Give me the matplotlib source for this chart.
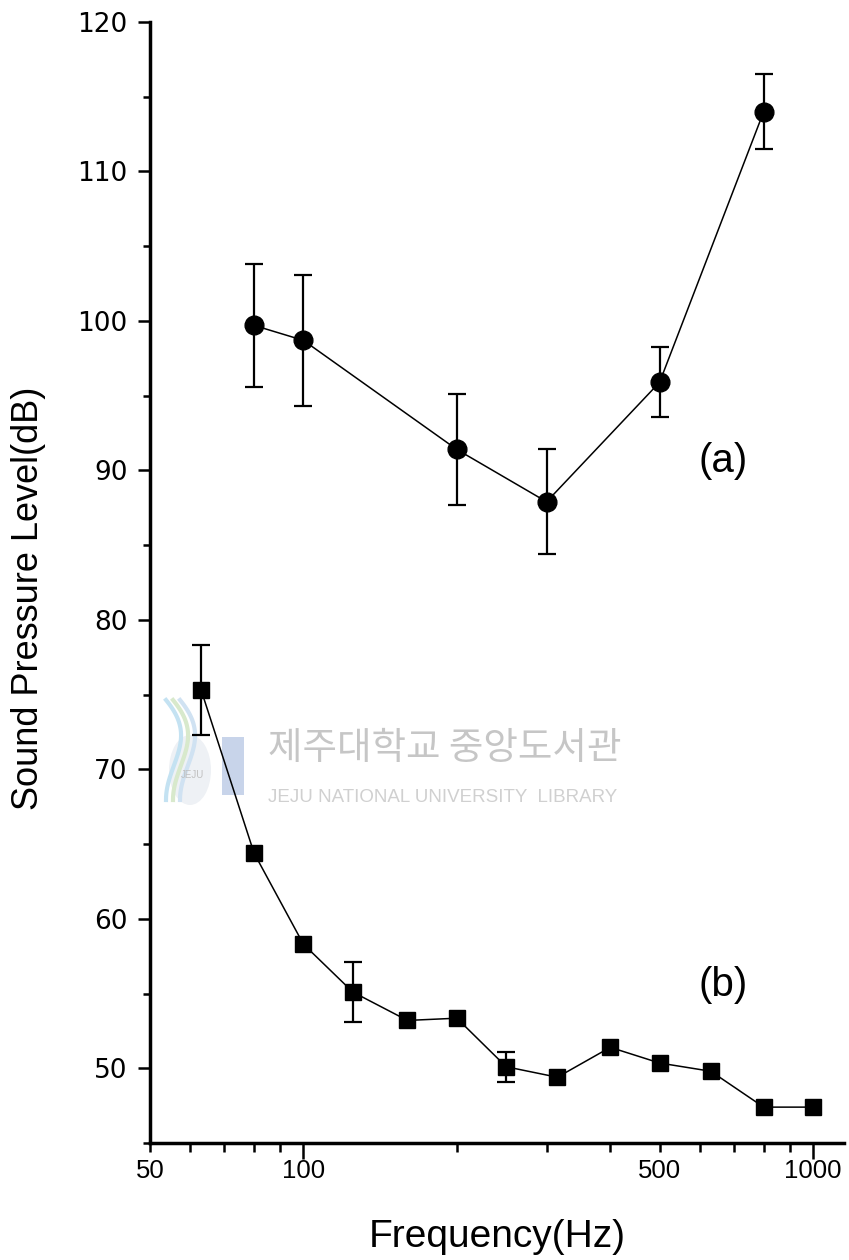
import numpy as np
import matplotlib.pyplot as plt
from matplotlib.ticker import MultipleLocator
from matplotlib.patches import Rectangle, Ellipse
from matplotlib.lines import Line2D

# curve (a): level measured at a few frequencies, with spread
freq_a = [80, 100, 200, 300, 500, 800]
spl_a = [99.7, 98.7, 91.4, 87.9, 95.9, 114.0]
err_a = [4.1, 4.4, 3.7, 3.5, 2.35, 2.5]

# curve (b): 1/3 octave bands, spread only where measured
freq_b = [63, 80, 100, 125, 160, 200, 250, 315, 400, 500, 630, 800, 1000]
spl_b = [75.3, 64.4, 58.3, 55.1, 53.2, 53.35, 50.1, 49.4, 51.4, 50.35, 49.8, 47.4, 47.4]
err_b = [3.0, 0, 0, 2.0, 0, 0, 1.0, 0, 0, 0, 0, 0, 0]

# axis ticks
x_major = [100, 1000]
x_major_labels = ['100', '1000']
x_minor = [50, 60, 70, 80, 90, 200, 300, 400, 500, 600, 700, 800, 900]
x_minor_labels = ['50', '', '', '', '', '', '', '', '500', '', '', '', '']
y_major = [50, 60, 70, 80, 90, 100, 110, 120]

plt.rcParams['font.family'] = ['Liberation Sans', 'DejaVu Sans']

W, H = 849, 1260
fig = plt.figure(figsize=(W / 100, H / 100), dpi=100)
ax = fig.add_axes([150 / W, 117 / H, 694 / W, 1121 / H])
ax.set_facecolor('none')

# library watermark behind the plot
fig.text(268 / W, 1 - 748 / H, '제주대학교 중앙도서관', fontsize=27, color='#c6c6c6',
         family=['Noto Sans CJK KR', 'DejaVu Sans'], ha='left', va='center', zorder=-2)
fig.text(268 / W, 1 - 797 / H, 'JEJU NATIONAL UNIVERSITY  LIBRARY', fontsize=13.5,
         color='#d0d0d0', ha='left', va='center', zorder=-2)
fig.patches.append(Rectangle((222 / W, 1 - 795 / H), 22 / W, 58 / H, transform=fig.transFigure,
                             facecolor='#c8d4ea', edgecolor='none', zorder=-2))
fig.patches.append(Ellipse((190 / W, 1 - 770 / H), 42 / W, 70 / H, transform=fig.transFigure,
                           facecolor='#eef1f5', edgecolor='none', zorder=-3))
t = np.linspace(0, 1, 60)
for dx, col in [(0, '#c4e2f2'), (7, '#d8e9cc'), (14, '#d0e2f2')]:
    xs = (166 + dx + 26 * np.sin(np.pi * t) * (1 - t)) / W
    ys = 1 - (700 + 100 * t) / H
    fig.lines.append(Line2D(xs, ys, transform=fig.transFigure, color=col, lw=3, zorder=-2))
fig.text(192 / W, 1 - 775 / H, 'JEJU', fontsize=7, color='#c0c0c0', ha='center',
         va='center', zorder=-2)

# curve (a): circles with error bars
ax.errorbar(freq_a, spl_a, yerr=err_a, fmt='none', ecolor='black',
            elinewidth=1.6, capsize=6.5, capthick=1.6, zorder=2)
ax.plot(freq_a, spl_a, color='black', lw=1.1, marker='o', markersize=13.5, zorder=3)

# curve (b): squares, error bars only where given
fb = np.array(freq_b)
sb = np.array(spl_b)
eb = np.array(err_b)
has_err = eb > 0
ax.errorbar(fb[has_err], sb[has_err], yerr=eb[has_err], fmt='none', ecolor='black',
            elinewidth=1.6, capsize=6.5, capthick=1.6, zorder=2)
ax.plot(freq_b, spl_b, color='black', lw=1.1, marker='s', markersize=11, zorder=3)

ax.text(665, 90.6, '(a)', fontsize=29, ha='center', va='center')
ax.text(665, 55.6, '(b)', fontsize=29, ha='center', va='center')

ax.set_xscale('log')
ax.set_xlim(50, 1150)
ax.set_ylim(45, 120)

ax.set_xticks(x_major, x_major_labels)
ax.set_xticks(x_minor, x_minor_labels, minor=True)
ax.set_yticks(y_major)
ax.yaxis.set_minor_locator(MultipleLocator(5))

ax.tick_params(axis='x', which='major', direction='out', length=11.5, width=1.8,
               pad=0, labelsize=18.5)
ax.tick_params(axis='x', which='minor', direction='out', length=6.5, width=1.8,
               pad=5, labelsize=18.5)
ax.tick_params(axis='y', which='major', direction='out', length=9, width=1.8,
               pad=7, labelsize=19)
ax.tick_params(axis='y', which='minor', direction='out', length=5, width=1.8)
for lbl in ax.get_yticklabels():
    lbl.set_fontfamily('DejaVu Sans')

for side in ['top', 'right']:
    ax.spines[side].set_visible(False)
for side in ['left', 'bottom']:
    ax.spines[side].set_linewidth(2.5)

ax.set_xlabel('Frequency(Hz)', fontsize=28, labelpad=26)
ax.set_ylabel('Sound Pressure Level(dB)', fontsize=26)
ax.yaxis.set_label_coords(-0.15, 0.486)

fig.savefig('out.png', dpi=100)
